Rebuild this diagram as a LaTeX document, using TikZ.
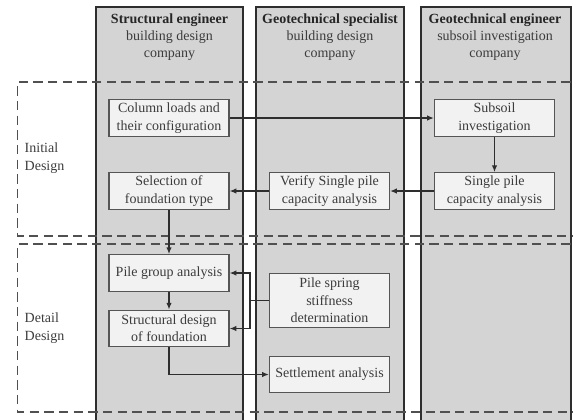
\documentclass[tikz,border=0pt]{standalone}
\usepackage{fontspec}
\setmainfont{Liberation Serif}
\usepackage{tikz}
\usepackage{xcolor}
\usetikzlibrary{arrows.meta}

\definecolor{lanegray}{HTML}{D4D4D4}
\definecolor{laneline}{HTML}{2E2E2E}
\definecolor{boxfill}{HTML}{F2F2F2}
\definecolor{boxline}{HTML}{555555}
\definecolor{dashgray}{HTML}{505050}
\definecolor{textgray}{HTML}{3C3C3C}

\begin{document}
\begin{tikzpicture}[x=0.75pt,y=-0.75pt,font=\fontsize{10.5}{13}\selectfont]
	\tikzstyle{lane} = [draw=laneline, fill=lanegray, line width=1.5pt]
	\tikzstyle{stage} = [draw=dashgray, line width=1.1pt, dash pattern=on 7pt off 4pt]
	\tikzstyle{task} = [draw=boxline, fill=boxfill, line width=0.9pt, minimum width=90pt, minimum height=27.5pt, align=center, text=textgray, inner sep=1pt]
	\tikzstyle{head} = [align=center, text=textgray]
	\tikzstyle{flow} = [draw=laneline, line width=0.9pt, -{Latex[length=5pt,width=4pt]}]
	\useasboundingbox (0,0) rectangle (573,419);
		% swim lanes
		\draw[lane] (96,7) rectangle (243,440);
		\draw[lane] (256,7) rectangle (404,440);
		\draw[lane] (421,7) rectangle (571,440);
		\node[head] (h1) at (169.5,37) {\textbf{\color{black!85}Structural engineer}\\building design\\company};
		\node[head] (h2) at (330,37) {\textbf{\color{black!85}Geotechnical specialist}\\building design\\company};
		\node[head] (h3) at (495,37) {\textbf{\color{black!85}Geotechnical engineer}\\subsoil investigation\\company};
		% stages
		\draw[stage] (600,82) -- (17.5,82) -- (17.5,236) -- (600,236);
		\draw[stage] (600,244) -- (17.5,244) -- (17.5,412) -- (600,412);
		\node[head, align=left, anchor=west] (ini) at (20,158) {Initial\\Design};
		\node[head, align=left, anchor=west] (det) at (20,328) {Detail\\Design};

		\node[task] (loads) at (169,118) {Column loads and\\their configuration};
		\node[task] (subsoil) at (494.5,118) {Subsoil\\investigation};
		\node[task] (select) at (169,191) {Selection of\\foundation type};
		\node[task] (verify) at (329.5,191) {Verify Single pile\\capacity analysis};
		\node[task] (single) at (494.5,191) {Single pile\\capacity analysis};
		\node[task] (group) at (169,273) {Pile group analysis};
		\node[task] (struct) at (169,328.5) {Structural design\\of foundation};
		\node[task, minimum height=41pt] (spring) at (329.5,300.5) {Pile spring\\stiffness\\determination};
		\node[task] (settle) at (329.5,374.5) {Settlement analysis};
		\coordinate (fork) at (250,300.5);

		\draw[flow] (loads) -- (subsoil);
		\draw[flow] (subsoil) -- (single);
		\draw[flow] (single) -- (verify);
		\draw[flow] (verify) -- (select);
		\draw[flow] (select) -- (group);
		\draw[flow] (group) -- (struct);
		\draw[draw=laneline, line width=0.9pt] (spring) -- (fork);
		\draw[flow] (fork) |- (group);
		\draw[flow] (fork) |- (struct);
		\draw[flow] (struct) |- (settle);
	\end{tikzpicture}
\end{document}
